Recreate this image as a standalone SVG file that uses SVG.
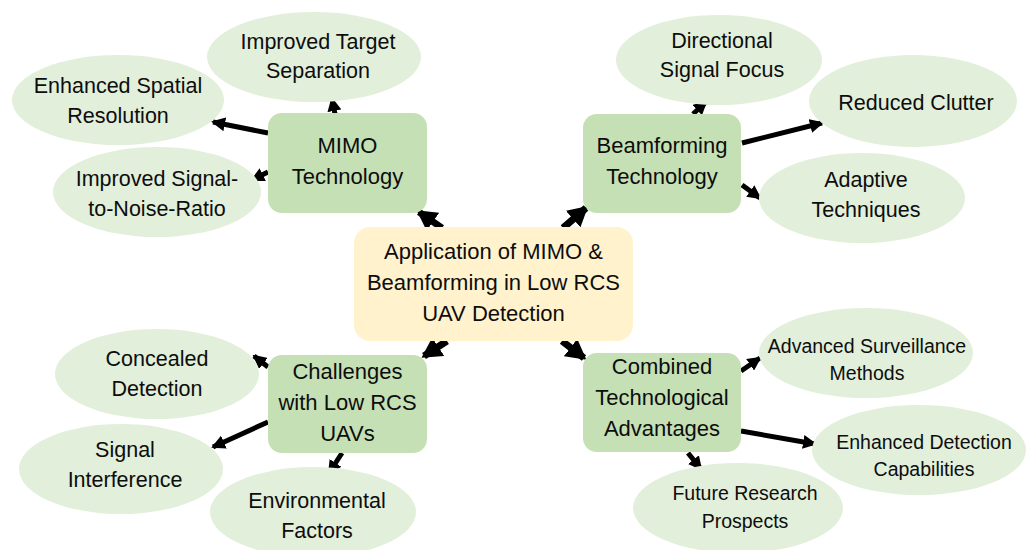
<svg xmlns="http://www.w3.org/2000/svg" width="1027" height="550" viewBox="0 0 1027 550">
<style>
.ell{fill:#e2efda;}
.box{fill:#c5e0b4;}
.ctr{fill:#fff2cc;}
text{font-family:"Liberation Sans",Arial,sans-serif;fill:#0d0d0d;text-anchor:middle;}
.t{font-size:21.5px;}
.b{font-size:22px;}
.s{font-size:19.5px;}
.c{stroke:#000;stroke-width:5;fill:none;}
.cb{stroke:#000;stroke-width:7;fill:none;}
</style>
<defs>
<marker id="ah" markerUnits="userSpaceOnUse" markerWidth="14" markerHeight="14" refX="12" refY="7" orient="auto"><path d="M0,0 L14,7 L0,14 Z" fill="#000"/></marker>
<marker id="ahb" markerUnits="userSpaceOnUse" markerWidth="20" markerHeight="22" refX="17" refY="11" orient="auto"><path d="M0,0 L20,11 L0,22 Z" fill="#000"/></marker>
</defs>
<rect width="1027" height="550" fill="#fff"/>
<g id="connectors">
<line class="cb" x1="442" y1="228" x2="419" y2="212" marker-end="url(#ahb)"/>
<line class="cb" x1="563" y1="228" x2="586" y2="208" marker-end="url(#ahb)"/>
<line class="cb" x1="447" y1="341" x2="424" y2="356" marker-end="url(#ahb)"/>
<line class="cb" x1="562" y1="341" x2="584" y2="358" marker-end="url(#ahb)"/>
<line class="c" x1="335" y1="114" x2="332" y2="99" marker-end="url(#ah)"/>
<line class="c" x1="268" y1="133" x2="213" y2="122" marker-end="url(#ah)"/>
<line class="c" x1="268" y1="172" x2="252" y2="180" marker-end="url(#ah)"/>
<line class="c" x1="693" y1="114" x2="706" y2="102" marker-end="url(#ah)"/>
<line class="c" x1="742" y1="143" x2="822" y2="123" marker-end="url(#ah)"/>
<line class="c" x1="742" y1="185" x2="760" y2="198" marker-end="url(#ah)"/>
<line class="c" x1="268" y1="367" x2="254" y2="356" marker-end="url(#ah)"/>
<line class="c" x1="268" y1="422" x2="213" y2="447" marker-end="url(#ah)"/>
<line class="c" x1="342" y1="453" x2="329" y2="473" marker-end="url(#ah)"/>
<line class="c" x1="741" y1="371" x2="760" y2="358" marker-end="url(#ah)"/>
<line class="c" x1="741" y1="431" x2="815" y2="444" marker-end="url(#ah)"/>
<line class="c" x1="688" y1="453" x2="701" y2="469" marker-end="url(#ah)"/>
</g>
<g id="center"><rect class="ctr" x="354" y="227" width="279" height="114" rx="16"/>
<text class="b" x="493.5" y="259">Application of MIMO &amp;</text>
<text class="b" x="493.5" y="290">Beamforming in Low RCS</text>
<text class="b" x="493.5" y="321">UAV Detection</text></g>
<g id="mimo"><rect class="box" x="268" y="113" width="159" height="100" rx="14"/>
<text class="b" x="347.5" y="153">MIMO</text><text class="b" x="347.5" y="184">Technology</text></g>
<g id="beam"><rect class="box" x="583" y="114" width="158" height="99" rx="14"/>
<text class="b" x="662" y="153">Beamforming</text><text class="b" x="662" y="184">Technology</text></g>
<g id="chal"><rect class="box" x="268" y="355" width="159" height="98" rx="14"/>
<text class="b" x="347.5" y="379">Challenges</text><text class="b" x="347.5" y="410">with Low RCS</text><text class="b" x="347.5" y="441">UAVs</text></g>
<g id="comb"><rect class="box" x="583" y="353" width="158" height="99" rx="14"/>
<text class="b" x="662" y="374">Combined</text><text class="b" x="662" y="405">Technological</text><text class="b" x="662" y="436">Advantages</text></g>
<g id="e1"><ellipse class="ell" cx="314" cy="57" rx="107" ry="45"/><text class="t" x="318" y="49">Improved Target</text><text class="t" x="318" y="78">Separation</text></g>
<g id="e2"><ellipse class="ell" cx="118" cy="100" rx="106" ry="45"/><text class="t" x="118" y="93">Enhanced Spatial</text><text class="t" x="118" y="123">Resolution</text></g>
<g id="e3"><ellipse class="ell" cx="157" cy="192" rx="104" ry="45"/><text class="t" x="157" y="186">Improved Signal-</text><text class="t" x="157" y="216">to-Noise-Ratio</text></g>
<g id="e4"><ellipse class="ell" cx="719" cy="60" rx="103" ry="45"/><text class="t" x="722" y="48">Directional</text><text class="t" x="722" y="77">Signal Focus</text></g>
<g id="e5"><ellipse class="ell" cx="913" cy="101" rx="104" ry="46"/><text class="t" x="916" y="110">Reduced Clutter</text></g>
<g id="e6"><ellipse class="ell" cx="862" cy="198" rx="103" ry="45"/><text class="t" x="866" y="187">Adaptive</text><text class="t" x="866" y="217">Techniques</text></g>
<g id="e7"><ellipse class="ell" cx="157" cy="374" rx="102" ry="45"/><text class="t" x="157" y="366">Concealed</text><text class="t" x="157" y="396">Detection</text></g>
<g id="e8"><ellipse class="ell" cx="121" cy="469" rx="102" ry="45"/><text class="t" x="125" y="457">Signal</text><text class="t" x="125" y="487">Interference</text></g>
<g id="e9"><ellipse class="ell" cx="313" cy="512" rx="103" ry="45"/><text class="t" x="317" y="508">Environmental</text><text class="t" x="317" y="538">Factors</text></g>
<g id="e10"><ellipse class="ell" cx="866" cy="353" rx="107" ry="45"/><text class="s" x="867" y="353">Advanced Surveillance</text><text class="s" x="867" y="380">Methods</text></g>
<g id="e11"><ellipse class="ell" cx="919" cy="450" rx="107" ry="45"/><text class="s" x="924" y="449">Enhanced Detection</text><text class="s" x="924" y="476">Capabilities</text></g>
<g id="e12"><ellipse class="ell" cx="738" cy="508" rx="105" ry="45"/><text class="s" x="745" y="500">Future Research</text><text class="s" x="745" y="528">Prospects</text></g>
</svg>
